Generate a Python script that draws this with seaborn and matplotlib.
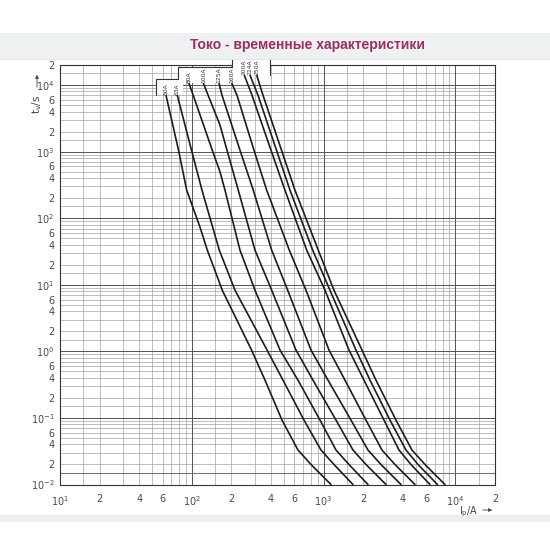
import matplotlib
matplotlib.use('Agg')
import matplotlib.pyplot as plt
from matplotlib.patches import Rectangle
from matplotlib.ticker import FixedLocator, FixedFormatter, NullFormatter
import seaborn as sns

# fuse ratings and their time-current curves (current in A, time in s)
ratings = ['50A', '63A', '80A', '100A', '125A', '160A', '200A', '224A', '250A']

i_50 = [63.7, 79.3, 91.5, 115.4, 131.1, 170.3, 283.8, 359.3, 483.5, 639.3, 802.3, 1138]
t_50 = [7050, 1053, 264, 73.5, 33.2, 8.3, 1.05, 0.37, 0.093, 0.033, 0.02, 0.01]

i_63 = [77.6, 99.5, 119.5, 161.7, 212.7, 372.1, 492, 710, 955.7, 1199, 1671]
t_63 = [7050, 1053, 264, 33.2, 8.3, 1.05, 0.37, 0.093, 0.033, 0.02, 0.01]

i_80 = [95.2, 143.0, 163.7, 178.6, 232.1, 301.6, 467, 639.3, 939, 1242, 1558, 2172]
t_80 = [10700, 1053, 498, 264, 33.2, 8.3, 1.05, 0.37, 0.093, 0.033, 0.02, 0.01]

i_100 = [122.3, 163.7, 185.0, 225.3, 301.6, 403.8, 617.3, 830.9, 1242, 1671, 2097, 2975]
t_100 = [10700, 2500, 1053, 264, 33.2, 8.3, 1.05, 0.37, 0.093, 0.033, 0.02, 0.01]

i_125 = [160.8, 169.5, 232.1, 292.8, 403.8, 534.1, 802.3, 1080, 1614, 2172, 2725, 3867]
t_125 = [10700, 7050, 1053, 264, 33.2, 8.3, 1.05, 0.37, 0.093, 0.033, 0.02, 0.01]

i_160 = [200.9, 220.3, 296.4, 370.1, 549.3, 735.5, 1099, 1453, 2097, 2774, 3480, 4938]
t_160 = [10700, 7050, 1053, 264, 33.2, 8.3, 1.05, 0.37, 0.093, 0.033, 0.02, 0.01]

i_200 = [250.2, 286.3, 398.9, 509.4, 744.5, 1025, 1558, 2025, 2873, 3734, 4604, 6418]
t_200 = [14100, 7050, 1053, 264, 33.2, 8.3, 1.05, 0.37, 0.093, 0.033, 0.02, 0.01]

i_224 = [276.4, 317.9, 439.2, 556.0, 826.5, 1118, 1761, 2250, 3190, 4220, 5203, 7316]
t_224 = [14100, 7050, 1053, 264, 33.2, 8.3, 1.05, 0.37, 0.093, 0.033, 0.02, 0.01]

i_250 = [310.8, 346.9, 479.4, 606.7, 911.7, 1199, 1956, 2498, 3543, 4684, 5881, 8341]
t_250 = [14100, 7050, 1053, 264, 33.2, 8.3, 1.05, 0.37, 0.093, 0.033, 0.02, 0.01]

currents = [i_50, i_63, i_80, i_100, i_125, i_160, i_200, i_224, i_250]
times = [t_50, t_63, t_80, t_100, t_125, t_160, t_200, t_224, t_250]

# tick labels
x_ticks = [10, 20, 40, 60, 100, 200, 400, 600, 1000, 2000, 4000, 6000, 10000, 20000]
x_labels = ['$10^{1}$', '2', '4', '6', '$10^{2}$', '2', '4', '6',
            '$10^{3}$', '2', '4', '6', '$10^{4}$', '2']
y_ticks = [0.01, 0.02, 0.04, 0.06, 0.1, 0.2, 0.4, 0.6, 1, 2, 4, 6, 10, 20, 40, 60,
           100, 200, 400, 600, 1000, 2000, 4000, 6000, 10000, 20000]
y_labels = ['$10^{-2}$', '2', '4', '6', '$10^{-1}$', '2', '4', '6', '$10^{0}$', '2', '4', '6',
            '$10^{1}$', '2', '4', '6', '$10^{2}$', '2', '4', '6', '$10^{3}$', '2', '4', '6',
            '$10^{4}$', '2']
grid_steps = [1.5, 2, 3, 4, 5, 6, 7, 8, 9]

# label box outline (stepped), in data coordinates
box_x = [53.5, 53.5, 79, 79, 200.9, 200.9, 392, 392, 224, 224, 85.7, 85.7]
box_y = [7050, 12260, 12260, 18380, 18380, 25070, 25070, 14100, 14100, 10700, 10700, 7050]

sns.set_theme(style='white')
plt.rcParams['font.family'] = ['DejaVu Sans']
plt.rcParams['mathtext.fontset'] = 'dejavusans'

fig = plt.figure(figsize=(5.5, 5.5), dpi=100)
fig.patch.set_facecolor('white')

# page bands of the scanned brochure
fig.patches.append(Rectangle((0, 1 - 59 / 550), 1, 26 / 550, transform=fig.transFigure,
                             facecolor='#eff0f2', edgecolor='none', zorder=0))
fig.patches.append(Rectangle((0, 1 - 60 / 550), 1, 1 / 550, transform=fig.transFigure,
                             facecolor='#e2e3e5', edgecolor='none', zorder=0))
fig.patches.append(Rectangle((0, 1 - 522 / 550), 1, 7 / 550, transform=fig.transFigure,
                             facecolor='#eceef0', edgecolor='none', zorder=0))

ax = fig.add_axes([60 / 550, 1 - 484.5 / 550, 435 / 550, 419.5 / 550])
ax.set_facecolor('white')
ax.set_xscale('log')
ax.set_yscale('log')
ax.set_xlim(10, 20000)
ax.set_ylim(0.01, 20000)

# grid at 1, 1.5, 2 ... 9 per decade
xgrid = [s * 10 ** k for k in range(1, 5) for s in grid_steps if s * 10 ** k < 20000]
ygrid = [s * 10 ** k for k in range(-2, 5) for s in grid_steps if s * 10 ** k < 20000]
ax.xaxis.set_major_locator(FixedLocator(x_ticks))
ax.xaxis.set_major_formatter(FixedFormatter(x_labels))
ax.xaxis.set_minor_locator(FixedLocator(xgrid))
ax.xaxis.set_minor_formatter(NullFormatter())
ax.yaxis.set_major_locator(FixedLocator(y_ticks))
ax.yaxis.set_major_formatter(FixedFormatter(y_labels))
ax.yaxis.set_minor_locator(FixedLocator(ygrid))
ax.yaxis.set_minor_formatter(NullFormatter())
ax.grid(which='both', color='#a2a2a2', lw=0.5)
for k in range(1, 5):
    ax.axvline(10 ** k, color='#555555', lw=0.7, zorder=1.5)
for k in range(-2, 5):
    ax.axhline(10 ** k, color='#555555', lw=0.7, zorder=1.5)
ax.axhline(0.015, color='#666666', lw=0.6, zorder=1.5)

ax.tick_params(which='both', length=0, labelsize=7, labelcolor='#4a4a4a')
ax.tick_params(axis='x', pad=7)
ax.tick_params(axis='y', pad=4)
for sp in ax.spines.values():
    sp.set_color('#333333')
    sp.set_linewidth(0.8)

for name, cur, tim in zip(ratings, currents, times):
    sns.lineplot(x=cur, y=tim, sort=False, estimator=None, color='#1c1c1c', lw=1.2, ax=ax)

# white stepped box holding the rating labels
ax.fill(box_x, box_y, facecolor='white', edgecolor='none', clip_on=False, zorder=3)
ax.plot(box_x[:8], box_y[:8], color='#333333', lw=0.8, clip_on=False, zorder=3.5)
for name, cur, tim in zip(ratings, currents, times):
    ax.text(cur[0], tim[0] * 1.01, name, rotation=90, ha='center', va='bottom',
            fontsize=4.3, color='#333333', zorder=4, clip_on=False)

# axis labels with arrows
fig.text(37 / 550, 1 - 104 / 550, r'$\mathregular{t_v}$/s', rotation=90, ha='center',
         va='center', fontsize=7.5, color='#444444')
ax.annotate('', xy=(37 / 550, 1 - 72 / 550), xytext=(37 / 550, 1 - 90 / 550),
            xycoords='figure fraction', textcoords='figure fraction',
            arrowprops=dict(arrowstyle='-|>', lw=0.6, color='#444444', mutation_scale=5))
fig.text(469 / 550, 1 - 512 / 550, r'$\mathregular{I_p}$/A', ha='center', va='center',
         fontsize=7, color='#444444')
ax.annotate('', xy=(495 / 550, 1 - 510 / 550), xytext=(480 / 550, 1 - 510 / 550),
            xycoords='figure fraction', textcoords='figure fraction',
            arrowprops=dict(arrowstyle='-|>', lw=0.6, color='#444444', mutation_scale=5))

fig.text(307 / 550, 1 - 45 / 550, 'Токо - временные характеристики', ha='center',
         va='center', fontsize=10, fontweight='bold', color='#9b2f61',
         family=['Liberation Sans', 'DejaVu Sans'])

fig.savefig('out.png', dpi=100)
